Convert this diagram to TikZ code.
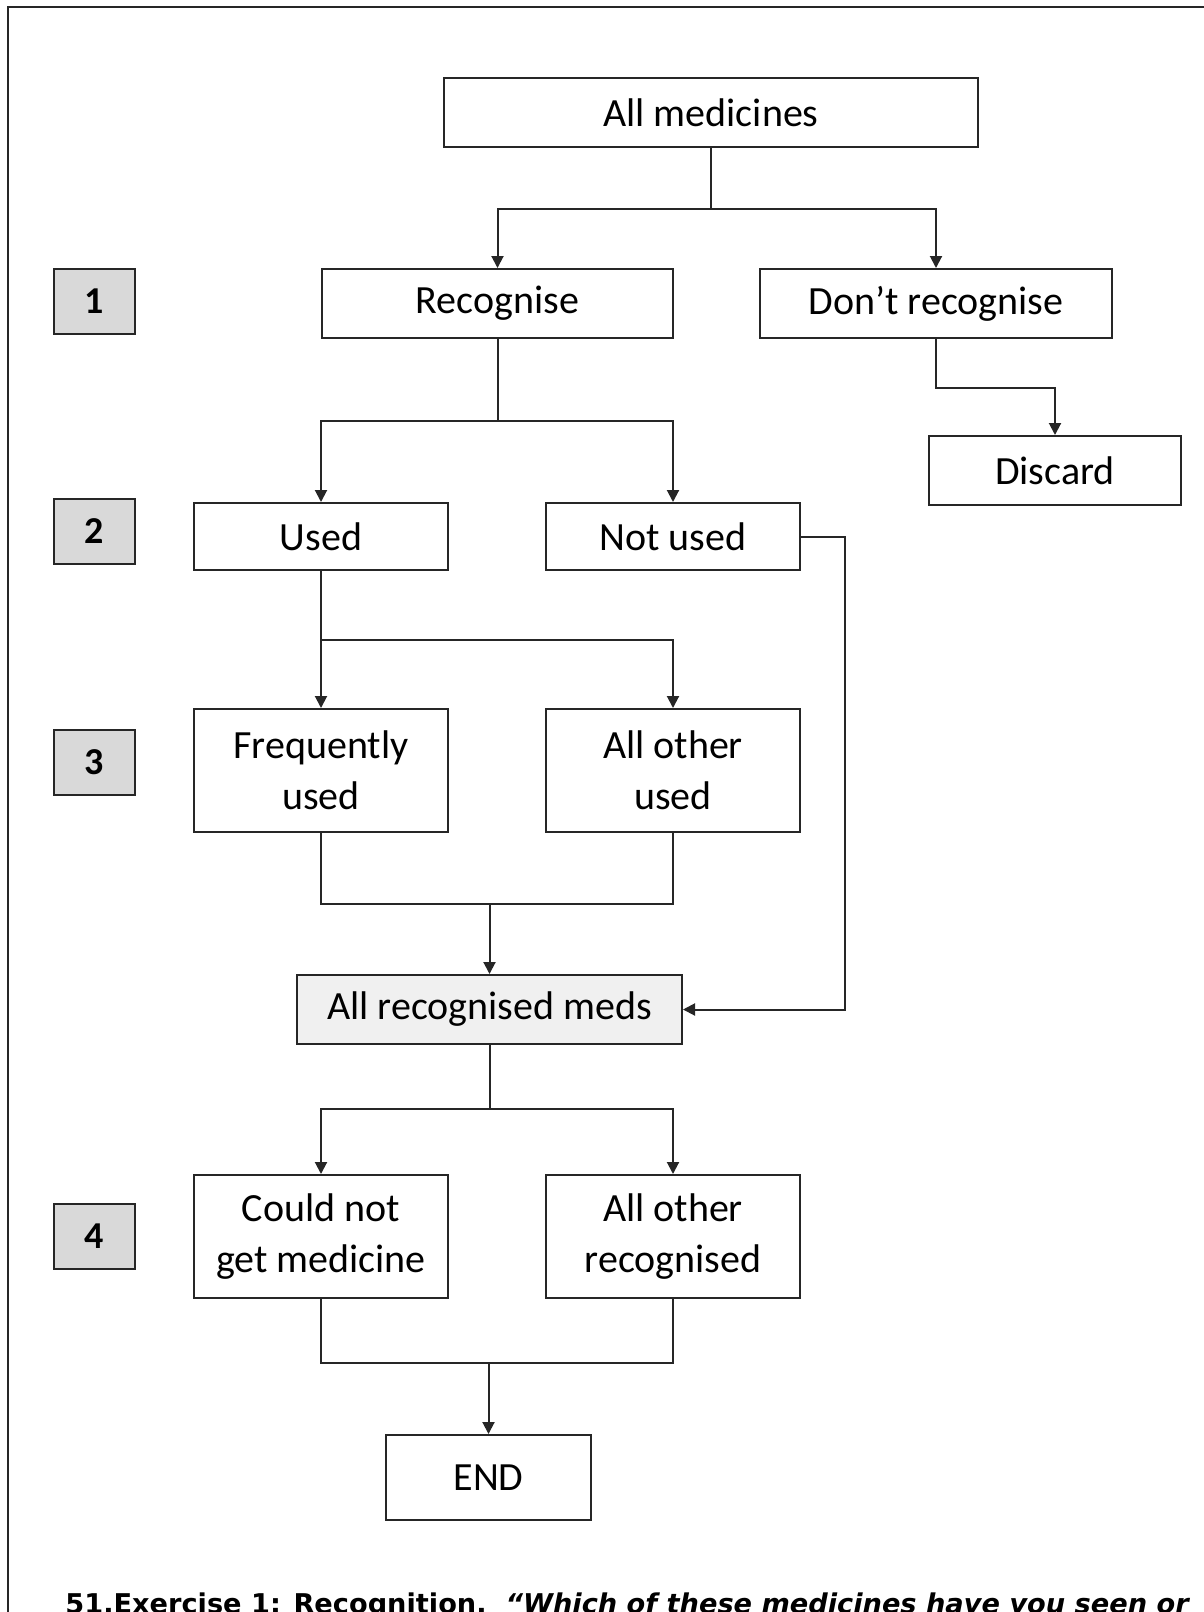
\documentclass[tikz,border=0pt]{standalone}
\usepackage{fontspec}
\newfontfamily\boxfont{Carlito}
\newfontfamily\capfont{DejaVu Sans}
\usetikzlibrary{arrows.meta}
\definecolor{linec}{HTML}{262626}
\definecolor{numfill}{HTML}{D9D9D9}
\definecolor{recfill}{HTML}{F0F0F0}
\begin{document}
\begin{tikzpicture}[x=0.5pt,y=-0.5pt,
  box/.style={draw=linec, line width=1pt, inner sep=0pt, align=center,
    font=\boxfont\fontsize{20}{25.5}\selectfont, text=black},
  numbox/.style={box, fill=numfill, minimum width=40.5pt, minimum height=32.5pt,
    font=\boxfont\bfseries\fontsize{19}{22}\selectfont},
  conn/.style={draw=linec, line width=1pt},
  arr/.style={conn, -{Triangle[width=6pt,length=6pt]}}]
\useasboundingbox (0,0) rectangle (1204,1612);
\clip (0,0) rectangle (1204,1612);
% frame
\draw[line width=1pt, draw=linec] (8,1620) -- (8,7) -- (1210,7);
% nodes
\node[box, minimum width=267pt, minimum height=34.5pt] (allmed) at (711,112.5) {All medicines};
\node[box, minimum width=175.5pt, minimum height=34.5pt] (recog) at (497.5,303.5) {Recognise};
\node[box, minimum width=176pt, minimum height=34.5pt] (dontrec) at (936,303.5) {Don’t recognise};
\node[box, minimum width=126pt, minimum height=34.5pt] (discard) at (1055,470.5) {Discard};
\node[box, minimum width=127pt, minimum height=33.5pt] (used) at (321,536.5) {Used};
\node[box, minimum width=127pt, minimum height=33.5pt] (notused) at (673,536.5) {Not used};
\node[box, minimum width=127pt, minimum height=61.5pt] (freq) at (321,770.5) {Frequently\\used};
\node[box, minimum width=127pt, minimum height=61.5pt] (otherused) at (673,770.5) {All other\\used};
\node[box, fill=recfill, minimum width=192.5pt, minimum height=34.5pt] (allrec) at (489.5,1009.5) {All recognised meds};
\node[box, minimum width=127pt, minimum height=61.5pt] (couldnot) at (321,1236.5) {Could not\\get medicine};
\node[box, minimum width=127pt, minimum height=61.5pt] (otherrec) at (673,1236.5) {All other\\recognised};
\node[box, minimum width=102.5pt, minimum height=42.5pt] (endn) at (488.5,1477.5) {END};
\node[numbox] (n1) at (94.5,301.5) {1};
\node[numbox] (n2) at (94.5,531) {2};
\node[numbox] (n3) at (94.5,762.5) {3};
\node[numbox] (n4) at (94.5,1236.5) {4};
% bus coordinates
\coordinate (b1) at (0,209);
\coordinate (bd) at (0,388);
\coordinate (b2) at (0,420.5);
\coordinate (b3) at (0,640);
\coordinate (b4) at (0,904);
\coordinate (bx) at (845,0);
\coordinate (b5) at (0,1109);
\coordinate (b6) at (0,1363);
% connectors
\draw[conn] (allmed.south) -- (allmed.south |- b1);
\draw[arr] (allmed.south |- b1) -| (recog.north);
\draw[arr] (allmed.south |- b1) -| (dontrec.north);
\draw[arr] (dontrec.south) -- (dontrec.south |- bd) -| (discard.north);
\draw[conn] (recog.south) -- (recog.south |- b2);
\draw[arr] (recog.south |- b2) -| (used.north);
\draw[arr] (recog.south |- b2) -| (notused.north);
\draw[arr] (used.south) -- (used.south |- b3) -| (otherused.north);
\draw[arr] (used.south |- b3) -- (freq.north);
\draw[conn] (freq.south) -- (freq.south |- b4) -- (otherused.south |- b4) -- (otherused.south);
\draw[arr] (allrec.north |- b4) -- (allrec.north);
\draw[arr] (notused.east) -- (notused.east -| bx) -- (allrec.east -| bx) -- (allrec.east);
\draw[conn] (allrec.south) -- (allrec.south |- b5);
\draw[arr] (allrec.south |- b5) -| (couldnot.north);
\draw[arr] (allrec.south |- b5) -| (otherrec.north);
\draw[conn] (couldnot.south) -- (couldnot.south |- b6) -- (otherrec.south |- b6) -- (otherrec.south);
\draw[arr] (endn.north |- b6) -- (endn.north);
% caption
\node[anchor=base west, inner sep=0pt, font=\capfont\bfseries\fontsize{13.6}{16}\selectfont] (cap) at (65,1613)
  {51.Exercise 1: Recognition.\ \ \textit{“Which of these medicines have you seen or}};
\end{tikzpicture}
\end{document}
